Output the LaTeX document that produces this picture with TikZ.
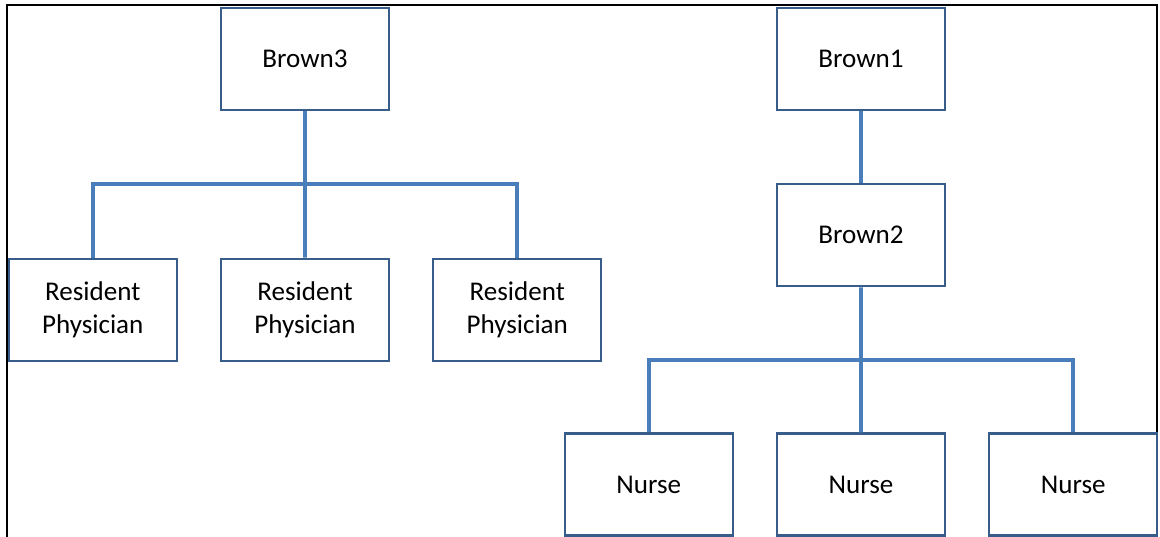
\documentclass[tikz,border=0pt]{standalone}
\usepackage{fontspec}
\setmainfont{Carlito}
\usetikzlibrary{calc}
\usetikzlibrary{positioning}
\definecolor{linkblue}{HTML}{4A7EBB}
\definecolor{boxblue}{HTML}{385D8A}

\begin{document}
\begin{tikzpicture}[x=0.02cm, y=-0.02cm, node distance=0.84cm, font=\fontsize{15.4}{18.8}\selectfont]
    \tikzstyle{box}=[draw=boxblue, line width=1.3pt, rectangle, fill=white, minimum width=3.36cm, minimum height=2.04cm, inner sep=0pt, align=center]
    \tikzstyle{link}=[draw=linkblue, line width=2.2pt]

    \useasboundingbox (0,0) rectangle (1160,537);
    \draw[line width=1.5pt] (7,537) -- (7,5) -- (1157,5) -- (1157,537);

    % left tree
    \node[box] (b3) at (305,59) {Brown3};
    \node[box, below=2.93cm of b3] (r2) {Resident\\Physician};
    \node[box, left=of r2] (r1) {Resident\\Physician};
    \node[box, right=of r2] (r3) {Resident\\Physician};
    \coordinate (busL) at ($(b3.south)!0.5!(r2.north)$);

    \draw[link] (b3.south) -- (busL);
    \draw[link] (r1.north) |- (busL) -| (r3.north);
    \draw[link] (busL) -- (r2.north);

    % right tree
    \node[box] (b1) at (861,59) {Brown1};
    \node[box, below=1.44cm of b1] (b2) {Brown2};
    \node[box, below=2.9cm of b2] (n2) {Nurse};
    \node[box, left=of n2] (n1) {Nurse};
    \node[box, right=of n2] (n3) {Nurse};
    \coordinate (busR) at ($(b2.south)!0.5!(n2.north)$);

    \draw[link] (b1) -- (b2);
    \draw[link] (b2.south) -- (busR);
    \draw[link] (n1.north) |- (busR) -| (n3.north);
    \draw[link] (busR) -- (n2.north);
\end{tikzpicture}
\end{document}
